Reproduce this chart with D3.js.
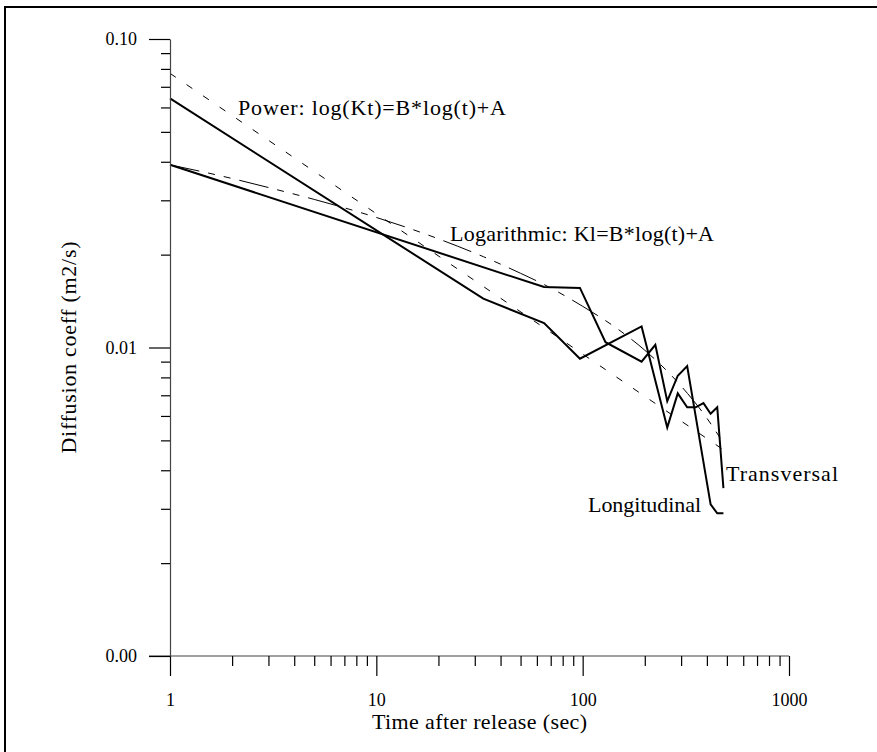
<!DOCTYPE html>
<html>
<head>
<meta charset="utf-8">
<script src="https://cdn.jsdelivr.net/npm/d3@7"></script>
<style>
	body { margin: 0; background: #fff; }
	text { font-family: "Liberation Serif", "Times New Roman", serif; fill: #000; }
</style>
</head>
<body>
<div id="chartgoeshere"></div>
<script>
var transT = [1, 33, 65, 97, 193, 257, 289, 321, 353, 385, 417, 449, 481];
var transK = [0.0642, 0.0144, 0.0120, 0.0092, 0.0117, 0.0055, 0.0071, 0.0064, 0.0064, 0.0066, 0.0061, 0.0064, 0.0035];

var longT = [1, 65, 97, 129, 193, 225, 257, 289, 321, 417, 449, 481];
var longK = [0.0391, 0.0157, 0.0156, 0.0104, 0.0090, 0.0102, 0.0067, 0.0081, 0.0087, 0.0031, 0.0029, 0.0029];

// Fitted curves
var powerT = [1, 481];
var powerK = [0.0774, 0.00466];

var logT = [1, 2, 3, 5, 10, 20, 33, 50, 65, 100, 150, 200, 300, 400, 481];
var logK = [0.0391, 0.0353, 0.0330, 0.0302, 0.0264, 0.0225, 0.0197, 0.0174, 0.0160, 0.0136, 0.0114, 0.0098, 0.0075, 0.0059, 0.0049];

// Ticks
var xMajor = [1, 10, 100, 1000];
var xMinor = [2, 3, 4, 5, 6, 7, 8, 9, 20, 30, 40, 50, 60, 70, 80, 90, 200, 300, 400, 500, 600, 700, 800, 900];
var yMajor = [0.001, 0.01, 0.1];
var yMinor = [0.002, 0.003, 0.004, 0.005, 0.006, 0.007, 0.008, 0.009, 0.02, 0.03, 0.04, 0.05, 0.06, 0.07, 0.08, 0.09];

// Chart size
var width = 877,
	height = 752;

// Scales
var x = d3.scaleLog()
	.domain([1, 1000])
	.range([170, 789]);

var y = d3.scaleLog()
	.domain([0.001, 0.1])
	.range([656, 39]);

var svg = d3.select("#chartgoeshere")
	.append("svg")
	.attr("width", width)
	.attr("height", height);

// Frame (only top and left edges show)
svg.append("path")
	.attr("d", "M5," + height + "V7H" + width)
	.attr("fill", "none")
	.attr("stroke", "#000")
	.attr("stroke-width", 2);

// Helper to zip arrays into points
function zip(ts, ks) {
	return ts.map(function (t, i) {
		return [t, ks[i]];
	});
}

var line = d3.line()
	.x(function (d) { return x(d[0]); })
	.y(function (d) { return y(d[1]); });

var smooth = d3.line()
	.x(function (d) { return x(d[0]); })
	.y(function (d) { return y(d[1]); })
	.curve(d3.curveMonotoneX);

// Power fit (short dashes)
svg.append("path")
	.datum(zip(powerT, powerK))
	.attr("d", line)
	.attr("fill", "none")
	.attr("stroke", "#000")
	.attr("stroke-width", 1)
	.attr("stroke-dasharray", "7,13");

// Logarithmic fit (long and short dashes)
svg.append("path")
	.datum(zip(logT, logK))
	.attr("d", smooth)
	.attr("fill", "none")
	.attr("stroke", "#000")
	.attr("stroke-width", 1)
	.attr("stroke-dasharray", "30,9,7,9,7,9");

// Measured series
svg.append("path")
	.datum(zip(transT, transK))
	.attr("d", line)
	.attr("fill", "none")
	.attr("stroke", "#000")
	.attr("stroke-width", 2)
	.attr("stroke-linejoin", "miter");

svg.append("path")
	.datum(zip(longT, longK))
	.attr("d", line)
	.attr("fill", "none")
	.attr("stroke", "#000")
	.attr("stroke-width", 2)
	.attr("stroke-linejoin", "miter");

// X axis, major and minor ticks
var gx = svg.append("g")
	.attr("transform", "translate(0," + y(0.001) + ")")
	.call(d3.axisBottom(x)
		.tickValues(xMajor)
		.tickSize(20)
		.tickSizeOuter(0)
		.tickPadding(17)
		.tickFormat(d3.format("d")));

svg.append("g")
	.attr("transform", "translate(0," + y(0.001) + ")")
	.call(d3.axisBottom(x)
		.tickValues(xMinor)
		.tickSize(10)
		.tickFormat(""))
	.select(".domain").remove();

// Y axis, major and minor ticks
var gy = svg.append("g")
	.attr("transform", "translate(" + x(1) + ",0)")
	.call(d3.axisLeft(y)
		.tickValues(yMajor)
		.tickSize(21)
		.tickSizeOuter(0)
		.tickPadding(12)
		.tickFormat(d3.format(".2f")));

svg.append("g")
	.attr("transform", "translate(" + x(1) + ",0)")
	.call(d3.axisLeft(y)
		.tickValues(yMinor)
		.tickSize(9)
		.tickFormat(""))
	.select(".domain").remove();

svg.selectAll(".domain")
	.attr("stroke", "#444")
	.attr("stroke-width", 1.2);

svg.selectAll(".tick line")
	.attr("stroke", "#000")
	.attr("stroke-width", 1.2);

svg.selectAll(".tick text")
	.style("font-family", "'Liberation Serif', 'Times New Roman', serif")
	.style("font-size", "18px")
	.attr("fill", "#000");

// Domain of x axis reaches out to the 0.00 tick
gx.select(".domain").attr("d", "M" + (x(1) - 21) + ",0H" + x(1000));

// Axis titles
svg.append("text")
	.attr("x", (x(1) + x(1000)) / 2)
	.attr("y", 729)
	.attr("text-anchor", "middle")
	.attr("textLength", 215)
	.style("font-size", "22px")
	.text("Time after release (sec)");

svg.append("text")
	.attr("transform", "translate(76," + (y(0.001) + y(0.1)) / 2 + ") rotate(-90)")
	.attr("text-anchor", "middle")
	.attr("textLength", 212)
	.style("font-size", "22px")
	.text("Diffusion coeff (m2/s)");

// Curve labels
svg.append("text")
	.attr("x", 238)
	.attr("y", 115)
	.attr("textLength", 268)
	.style("font-size", "22px")
	.text("Power: log(Kt)=B*log(t)+A");

svg.append("text")
	.attr("x", 450)
	.attr("y", 241)
	.attr("textLength", 264)
	.style("font-size", "22px")
	.text("Logarithmic: Kl=B*log(t)+A");

svg.append("text")
	.attr("x", 726)
	.attr("y", 481)
	.attr("textLength", 112)
	.style("font-size", "22px")
	.text("Transversal");

svg.append("text")
	.attr("x", 588)
	.attr("y", 512)
	.attr("textLength", 113)
	.style("font-size", "22px")
	.text("Longitudinal");
</script>
</body>
</html>
